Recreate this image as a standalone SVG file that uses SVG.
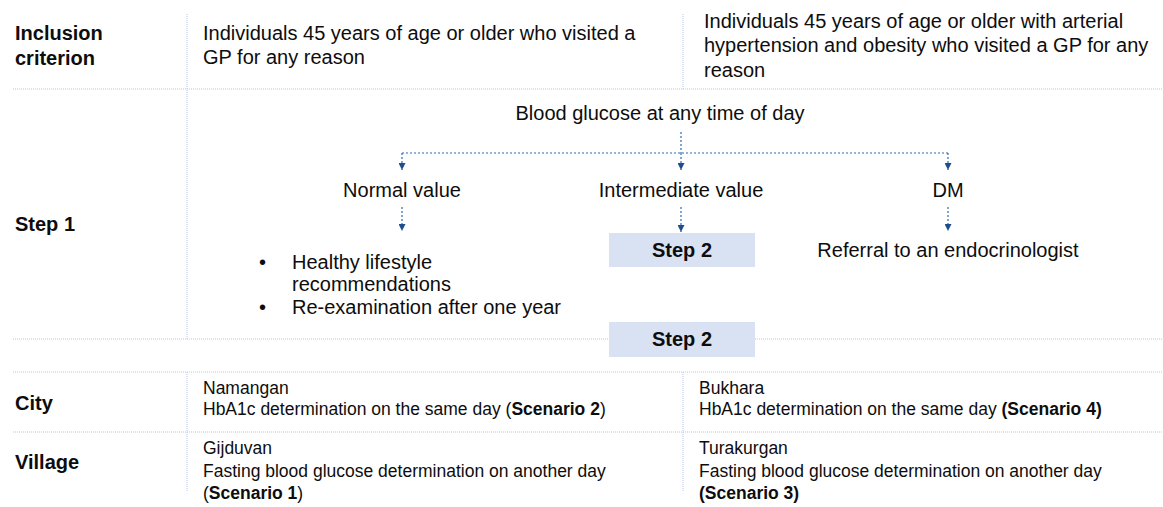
<svg xmlns="http://www.w3.org/2000/svg" width="1163" height="507" viewBox="0 0 1163 507">
<style>
text{font-family:"Liberation Sans",Arial,sans-serif;fill:#0d0d0d}
.b{font-weight:bold}
.t{font-size:20px}
.s{font-size:17.5px}
.grid{stroke:#b4c7e7;stroke-width:1;stroke-dasharray:1 1;fill:none}
.con{stroke:#2e6bb0;stroke-width:1.2;stroke-dasharray:2 2;fill:none}
.box{fill:#d9e2f3}
.mid{text-anchor:middle}
</style>
<defs>
<marker id="ah" viewBox="0 0 10 10" refX="10" refY="5" markerWidth="7" markerHeight="7" markerUnits="userSpaceOnUse" orient="auto">
<path d="M0,0 L10,5 L0,10 Z" fill="#1f4e8c"/>
</marker>
</defs>
<g id="grid">
<line class="grid" x1="13" y1="89" x2="1163" y2="89"/>
<line class="grid" x1="187" y1="14" x2="187" y2="339"/>
<line class="grid" x1="683" y1="14" x2="683" y2="89"/>
<line class="grid" x1="13" y1="339" x2="609" y2="339"/>
<line class="grid" x1="755" y1="339" x2="1163" y2="339"/>
<line class="grid" x1="13" y1="372" x2="1163" y2="372"/>
<line class="grid" x1="13" y1="432" x2="1163" y2="432"/>
<line class="grid" x1="187" y1="372" x2="187" y2="492"/>
<line class="grid" x1="683" y1="372" x2="683" y2="492"/>
</g>
<g id="row-labels">
<text class="t b" x="15" y="40">Inclusion</text>
<text class="t b" x="15" y="65">criterion</text>
<text class="t b" x="15" y="231">Step 1</text>
<text class="t b" x="15" y="410">City</text>
<text class="t b" x="15" y="469">Village</text>
</g>
<g id="incl-left">
<text class="t" x="203" y="40">Individuals 45 years of age or older who visited a</text>
<text class="t" x="203" y="64">GP for any reason</text>
</g>
<g id="incl-right">
<text class="t" x="704" y="28">Individuals 45 years of age or older with arterial</text>
<text class="t" x="704" y="52">hypertension and obesity who visited a GP for any</text>
<text class="t" x="704" y="77">reason</text>
</g>
<g id="connectors">
<path class="con" d="M681,132 V153"/>
<path class="con" d="M402,153 H948"/>
<path class="con" d="M402,153 V170" marker-end="url(#ah)"/>
<path class="con" d="M681,153 V170" marker-end="url(#ah)"/>
<path class="con" d="M948,153 V170" marker-end="url(#ah)"/>
<path class="con" d="M402,207 V231" marker-end="url(#ah)"/>
<path class="con" d="M681,207 V232" marker-end="url(#ah)"/>
<path class="con" d="M948,207 V231" marker-end="url(#ah)"/>
</g>
<g id="blood-glucose"><text class="t mid" x="660" y="120">Blood glucose at any time of day</text></g>
<g id="normal"><text class="t mid" x="402" y="197">Normal value</text></g>
<g id="intermediate"><text class="t mid" x="681" y="197">Intermediate value</text></g>
<g id="dm"><text class="t mid" x="948" y="197">DM</text></g>
<g id="recommendations">
<text class="t" x="259" y="269">•</text>
<text class="t" x="292" y="269">Healthy lifestyle</text>
<text class="t" x="292" y="291">recommendations</text>
<text class="t" x="259" y="314">•</text>
<text class="t" x="292" y="314">Re-examination after one year</text>
</g>
<g id="step2-a">
<rect class="box" x="609" y="233" width="146" height="34"/>
<text class="t b mid" x="682" y="257">Step 2</text>
</g>
<g id="referral"><text class="t mid" x="948" y="257">Referral to an endocrinologist</text></g>
<g id="step2-b">
<rect class="box" x="609" y="322" width="146" height="35"/>
<text class="t b mid" x="682" y="346">Step 2</text>
</g>
<g id="city-left">
<text class="s" x="203" y="394">Namangan</text>
<text class="s" x="203" y="415">HbA1c determination on the same day (<tspan class="b">Scenario 2</tspan>)</text>
</g>
<g id="city-right">
<text class="s" x="699" y="394">Bukhara</text>
<text class="s" x="699" y="415">HbA1c determination on the same day <tspan class="b">(Scenario 4)</tspan></text>
</g>
<g id="village-left">
<text class="s" x="203" y="454">Gijduvan</text>
<text class="s" x="203" y="477">Fasting blood glucose determination on another day</text>
<text class="s" x="203" y="499">(<tspan class="b">Scenario 1</tspan>)</text>
</g>
<g id="village-right">
<text class="s" x="699" y="454">Turakurgan</text>
<text class="s" x="699" y="477">Fasting blood glucose determination on another day</text>
<text class="s" x="699" y="499"><tspan class="b">(Scenario 3)</tspan></text>
</g>
</svg>
